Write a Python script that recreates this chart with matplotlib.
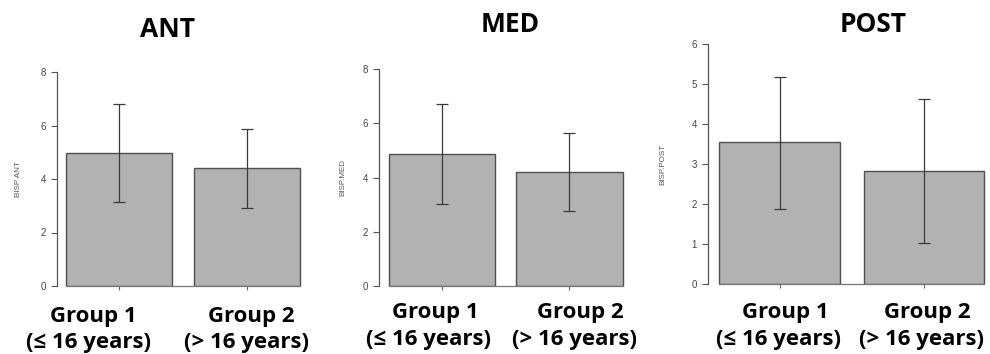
import matplotlib
matplotlib.use("Agg")
import matplotlib.pyplot as plt

# ---- data ----
panels = ["ANT", "MED", "POST"]
ylabels = ["BISP ANT", "BISP.MED", "BISP.POST"]
groups = ["Group 1\n(\u2264 16 years)", "Group 2\n(> 16 years)"]
means = {"ANT": [4.98, 4.40], "MED": [4.87, 4.19], "POST": [3.55, 2.83]}
err_lo = {"ANT": [3.15, 2.90], "MED": [3.03, 2.77], "POST": [1.88, 1.03]}
err_hi = {"ANT": [6.82, 5.88], "MED": [6.72, 5.65], "POST": [5.18, 4.63]}
yticks = {"ANT": [0, 2, 4, 6, 8], "MED": [0, 2, 4, 6, 8], "POST": [0, 1, 2, 3, 4, 5, 6]}

# ---- layout (pixels) ----
W, H = 990, 354
fig = plt.figure(figsize=(W / 100, H / 100), dpi=100)

# (axis_x, right_x, y0_px, ytop_px, xmin, xmax)
layout = {
    "ANT": (57, 310, 286, 72, 0.119, 2.49),
    "MED": (379, 630, 286, 69, 0.107, 2.47),
    "POST": (708, 988, 284, 44, 0.106, 2.43),
}
title_pos = {"ANT": (168, 29.5), "MED": (510, 24), "POST": (873, 24)}
# per group: (line1 center x, line2 center x); baselines per panel
label_x = {"ANT": [(93.5, 88.5), (251.5, 246.5)],
           "MED": [(435, 429), (580, 574.5)],
           "POST": [(785, 779), (927.5, 921.5)]}
label_base = {"ANT": (322, 348), "MED": (318, 345), "POST": (318, 345)}
ylab_pos = {"ANT": 18, "MED": 343, "POST": 663}

bar_face = "#b2b2b2"
bar_edge = "#505050"
ax_col = "#555555"
centers = [0.7, 1.9]
bfont = ["Open Sans", "DejaVu Sans"]

for p, yl in zip(panels, ylabels):
    x0, x1, y0, yt, xmin, xmax = layout[p]
    ax = fig.add_axes([x0 / W, (H - y0) / H, (x1 - x0) / W, (y0 - yt) / H])
    ymax = yticks[p][-1]
    ax.set_xlim(xmin, xmax)
    ax.set_ylim(0, ymax)
    m = means[p]
    lo = [a - b for a, b in zip(m, err_lo[p])]
    hi = [b - a for a, b in zip(m, err_hi[p])]
    ax.bar(centers, m, width=1.0, color=bar_face, edgecolor=bar_edge, linewidth=1.0, zorder=2)
    ax.errorbar(centers, m, yerr=[lo, hi], fmt="none", ecolor="#3a3a3a",
                elinewidth=0.9, capsize=4, capthick=0.9, zorder=3)
    for s in ["top", "right"]:
        ax.spines[s].set_visible(False)
    ax.spines["left"].set_color(ax_col)
    ax.spines["left"].set_linewidth(0.9)
    ax.spines["left"].set_bounds(0, ymax)
    ax.spines["bottom"].set_color("#777777")
    ax.spines["bottom"].set_linewidth(0.9)
    ax.spines["bottom"].set_bounds(centers[0] - 0.5, centers[1] + 0.5)
    ax.set_yticks(yticks[p])
    ax.set_yticklabels([str(v) for v in yticks[p]], fontsize=7, color="#444444",
                       family="Liberation Sans")
    ax.tick_params(axis="y", length=4, width=0.8, color=ax_col, pad=4)
    ax.set_xticks(centers)
    ax.set_xticklabels(["", ""])
    ax.tick_params(axis="x", length=3, width=0.8, color="#666666")
    ax.patch.set_alpha(0)
    fig.text(ylab_pos[p] / W, (H - (y0 + yt) / 2) / H, yl, rotation=90,
             ha="center", va="center", fontsize=5.8, color="#555555",
             family="Liberation Sans")
    tx, ty = title_pos[p]
    fig.text(tx / W, (H - ty) / H, p, ha="center", va="center",
             fontsize=19, fontweight="bold", family=bfont)
    b1, b2 = label_base[p]
    for (lx1, lx2), g in zip(label_x[p], groups):
        l1, l2 = g.split("\n")
        fig.text(lx1 / W, (H - b1) / H, l1, ha="center", va="baseline",
                 fontsize=16, fontweight="bold", family=bfont)
        fig.text(lx2 / W, (H - b2) / H, l2, ha="center", va="baseline",
                 fontsize=16, fontweight="bold", family=bfont)

fig.savefig("out.png", dpi=100)
